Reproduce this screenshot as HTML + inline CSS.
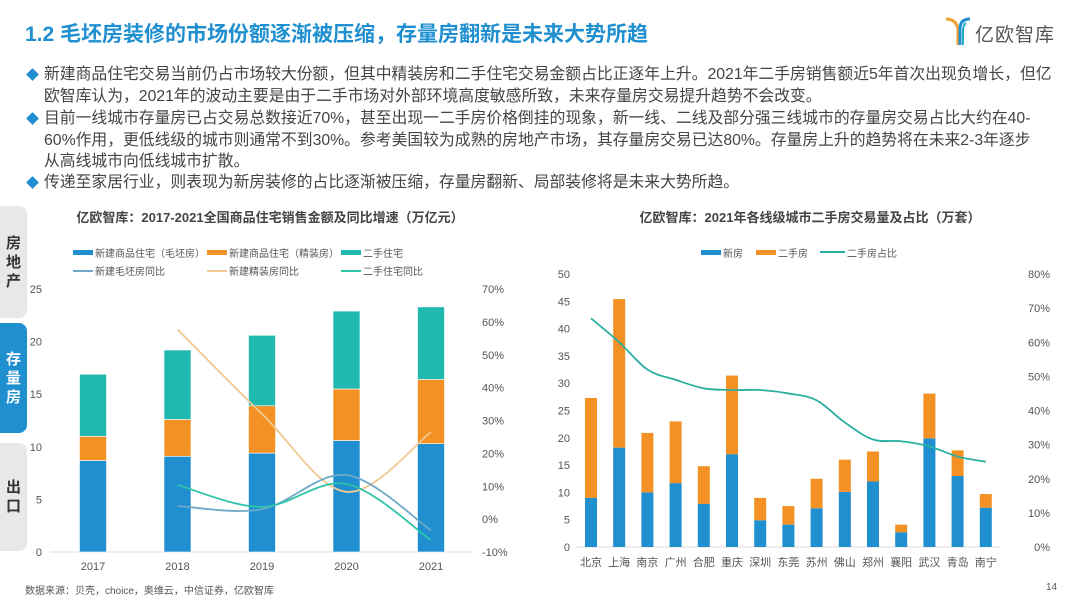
<!DOCTYPE html>
<html><head><meta charset="utf-8">
<style>
body{margin:0;width:1080px;height:608px;background:#fff;position:relative;overflow:hidden;font-family:"Liberation Sans","Noto Sans CJK SC",sans-serif;}
.abs{position:absolute;white-space:nowrap;}
#title{left:25px;top:18px;font-size:21px;font-weight:bold;color:#1f8fd0;}
.bl{left:44px;font-size:15.8px;color:#444;line-height:21.5px;}
.dia{left:28px;width:9px;height:9px;background:#1f8fd0;transform:rotate(45deg);}
.tab{left:0;width:27px;border-radius:0 8px 8px 0;background:#e8e8e8;color:#333;font-weight:bold;font-size:15px;text-align:center;line-height:19px;display:flex;align-items:center;justify-content:center;white-space:normal;}
</style></head><body>
<div class="abs" id="title">1.2 毛坯房装修的市场份额逐渐被压缩，存量房翻新是未来大势所趋</div>
<div class="abs" style="left:944px;top:15px;width:140px;height:32px;">
<svg width="28" height="32" style="position:absolute;left:0;top:0"><path d="M2 4 Q12 4 14 14 L14 30" stroke="#f0a030" stroke-width="3" fill="none"/><path d="M26 4 Q16 4 16 14 L16 30" stroke="#1f8fd0" stroke-width="3" fill="none"/><path d="M22 8 Q19 10 19 16 L19 30" stroke="#1fb0c8" stroke-width="2" fill="none"/></svg>
<span style="position:absolute;left:31px;top:5px;font-size:19px;color:#555;letter-spacing:1px;">亿欧智库</span></div>

<div class="abs dia" style="top:70px"></div>
<div class="abs bl" style="top:64px">新建商品住宅交易当前仍占市场较大份额，但其中精装房和二手住宅交易金额占比正逐年上升。2021年二手房销售额近5年首次出现负增长，但亿<br>欧智库认为，2021年的波动主要是由于二手市场对外部环境高度敏感所致，未来存量房交易提升趋势不会改变。</div>
<div class="abs dia" style="top:114px"></div>
<div class="abs bl" style="top:108px">目前一线城市存量房已占交易总数接近70%，甚至出现一二手房价格倒挂的现象，新一线、二线及部分强三线城市的存量房交易占比大约在40-<br>60%作用，更低线级的城市则通常不到30%。参考美国较为成熟的房地产市场，其存量房交易已达80%。存量房上升的趋势将在未来2-3年逐步<br>从高线城市向低线城市扩散。</div>
<div class="abs dia" style="top:178px"></div>
<div class="abs bl" style="top:172px">传递至家居行业，则表现为新房装修的占比逐渐被压缩，存量房翻新、局部装修将是未来大势所趋。</div>

<div class="abs tab" style="top:206px;height:112px">房<br>地<br>产</div>
<div class="abs tab" style="top:323px;height:110px;background:#1f8fd0;color:#fff">存<br>量<br>房</div>
<div class="abs tab" style="top:443px;height:108px">出<br>口</div>

<div class="abs" style="left:25px;top:582px;font-size:10px;color:#555">数据来源：贝壳，choice，奥维云，中信证券，亿欧智库</div>
<div class="abs" style="left:1046px;top:582px;font-size:10px;color:#555">14</div>

<svg id="c1" class="abs" style="left:0;top:0" width="1080" height="608"></svg>

<script>
// Left chart data
const years=['2017','2018','2019','2020','2021'];
const roughNew=[8.7,9.1,9.4,10.6,10.3];
const finishedNew=[2.3,3.5,4.5,4.9,6.1];
const secondHand=[5.9,6.6,6.7,7.4,6.9];
const roughYoY=[null,4,3,13.4,-3.4];
const finishedYoY=[null,57.7,32,8.3,26.5];
const secondYoY=[null,10.4,3.7,10.7,-6.4];
const leftTicks=[0,5,10,15,20,25];
const rightTicks=[-10,0,10,20,30,40,50,60,70];
// Right chart data
const cities=['北京','上海','南京','广州','合肥','重庆','深圳','东莞','苏州','佛山','郑州','襄阳','武汉','青岛','南宁'];
const newHouse=[9.0,18.2,10.0,11.7,7.9,17.0,4.9,4.1,7.1,10.1,12.0,2.7,19.9,13.0,7.2];
const usedHouse=[18.3,27.2,10.9,11.3,6.9,14.4,4.1,3.4,5.4,5.9,5.5,1.4,8.2,4.7,2.5];
const usedShare=[67,60,52,49,46.5,46,46,45,43,36.5,31.5,31,29.5,26.5,25];
const rTicksL=[0,5,10,15,20,25,30,35,40,45,50];
const rTicksR=[0,10,20,30,40,50,60,70,80];

const svg=document.getElementById('c1');
const NS='http://www.w3.org/2000/svg';
function mk(tag,attrs,name,parent){const e=document.createElementNS(NS,tag);for(const k in attrs)e.setAttribute(k,attrs[k]);


(parent||svg).appendChild(e);return e;}
function txt(x,y,s,name,opt){const t=mk('text',Object.assign({x:x,y:y,'font-size':11,fill:'#555','font-family':'Liberation Sans, Noto Sans CJK SC, sans-serif'},opt||{}),name);t.textContent=s;return t;}
function smooth(pts){let d='M'+pts[0][0]+','+pts[0][1];for(let i=0;i<pts.length-1;i++){const p0=pts[i-1]||pts[i],p1=pts[i],p2=pts[i+1],p3=pts[i+2]||p2;
d+=' C'+(p1[0]+(p2[0]-p0[0])/6)+','+(p1[1]+(p2[1]-p0[1])/6)+' '+(p2[0]-(p3[0]-p1[0])/6)+','+(p2[1]-(p3[1]-p1[1])/6)+' '+p2[0]+','+p2[1];}return d;}

// ---- Left chart
const L={x0:50,x1:473,y0:552,yTop:289};
const ly=v=>L.y0-(v/25)*(L.y0-L.yTop);
const ry=v=>L.y0-((v+10)/80)*(L.y0-L.yTop);
const lx=i=>93+i*84.5;
txt(270,222,'亿欧智库：2017-2021全国商品住宅销售金额及同比增速（万亿元）','left-chart-title',{'font-size':13,'font-weight':'bold',fill:'#444','text-anchor':'middle'});
const legL=[['rect','#1f8fd0','新建商品住宅（毛坯房）',73,253],['rect','#f39125','新建商品住宅（精装房）',207,253],['rect','#21b8b0','二手住宅',341,253],['line','#6fa8c8','新建毛坯房同比',73,271],['line','#f0c890','新建精装房同比',207,271],['line','#2ec4a8','二手住宅同比',341,271]];
legL.forEach(l=>{if(l[0]=='rect')mk('rect',{x:l[3],y:l[4]-3,width:20,height:5,fill:l[1]},'legend-swatch');else mk('line',{x1:l[3],x2:l[3]+20,y1:l[4],y2:l[4],stroke:l[1],'stroke-width':2},'legend-swatch');
txt(l[3]+22,l[4]+4,l[2],'legend-entry',{'font-size':10});});
mk('line',{x1:L.x0,x2:L.x1,y1:L.y0,y2:L.y0,stroke:'#ddd'},'x-axis');
leftTicks.forEach(v=>txt(42,ly(v)+4,v,'y-tick-left',{'text-anchor':'end'}));
rightTicks.forEach(v=>txt(482,ry(v)+4,v+'%','y-tick-right'));
years.forEach((y,i)=>{const x=lx(i),w=27;let b=0;
[[roughNew,'#1f8fd0'],[finishedNew,'#f39125'],[secondHand,'#21b8b0']].forEach((s,k)=>{const top=ly(b+s[0][i]);mk('rect',{x:x-w/2,y:top,width:w,height:ly(b)-top,fill:s[1],stroke:'#fff','stroke-width':0.6},'bar-'+y+'-'+k);b+=s[0][i];});
txt(x,570,y,'x-tick',{'text-anchor':'middle'});});
[[finishedYoY,'#f0c890'],[roughYoY,'#6fa8c8'],[secondYoY,'#2ec4a8']].forEach((s,k)=>{const pts=[];s[0].forEach((v,i)=>{if(v!==null)pts.push([lx(i),ry(v)]);});
mk('path',{d:smooth(pts),fill:'none',stroke:s[1],'stroke-width':1.8},'yoy-line-'+k);});

// ---- Right chart
const R={x0:577,x1:1000,y0:547,yTop:274};
const rly=v=>R.y0-(v/50)*(R.y0-R.yTop);
const rry=v=>R.y0-(v/80)*(R.y0-R.yTop);
const rx=i=>591+i*28.2;
txt(810,222,'亿欧智库：2021年各线级城市二手房交易量及占比（万套）','right-chart-title',{'font-size':13,'font-weight':'bold',fill:'#444','text-anchor':'middle'});
mk('rect',{x:701,y:250,width:20,height:5,fill:'#1f8fd0'},'legend-swatch');txt(723,257,'新房','legend-entry',{'font-size':10});
mk('rect',{x:756,y:250,width:20,height:5,fill:'#f39125'},'legend-swatch');txt(778,257,'二手房','legend-entry',{'font-size':10});
mk('line',{x1:820,x2:845,y1:252,y2:252,stroke:'#2ab0a0','stroke-width':2},'legend-swatch');txt(847,257,'二手房占比','legend-entry',{'font-size':10});
mk('line',{x1:R.x0,x2:R.x1,y1:R.y0,y2:R.y0,stroke:'#ddd'},'x-axis');
rTicksL.forEach(v=>txt(570,rly(v)+4,v,'y-tick-left',{'text-anchor':'end'}));
rTicksR.forEach(v=>txt(1050,rry(v)+4,v+'%','y-tick-right',{'text-anchor':'end'}));
cities.forEach((c,i)=>{const x=rx(i),w=12;const t1=rly(newHouse[i]);
mk('rect',{x:x-w/2,y:t1,width:w,height:R.y0-t1,fill:'#1f8fd0'},'bar-new-'+c);
const t2=rly(newHouse[i]+usedHouse[i]);mk('rect',{x:x-w/2,y:t2,width:w,height:t1-t2,fill:'#f39125'},'bar-used-'+c);
txt(x,566,c,'x-tick',{'text-anchor':'middle'});});
mk('path',{d:smooth(usedShare.map((v,i)=>[rx(i),rry(v)])),fill:'none',stroke:'#2ab0a0','stroke-width':1.8},'used-share-line');
</script>
</body></html>
